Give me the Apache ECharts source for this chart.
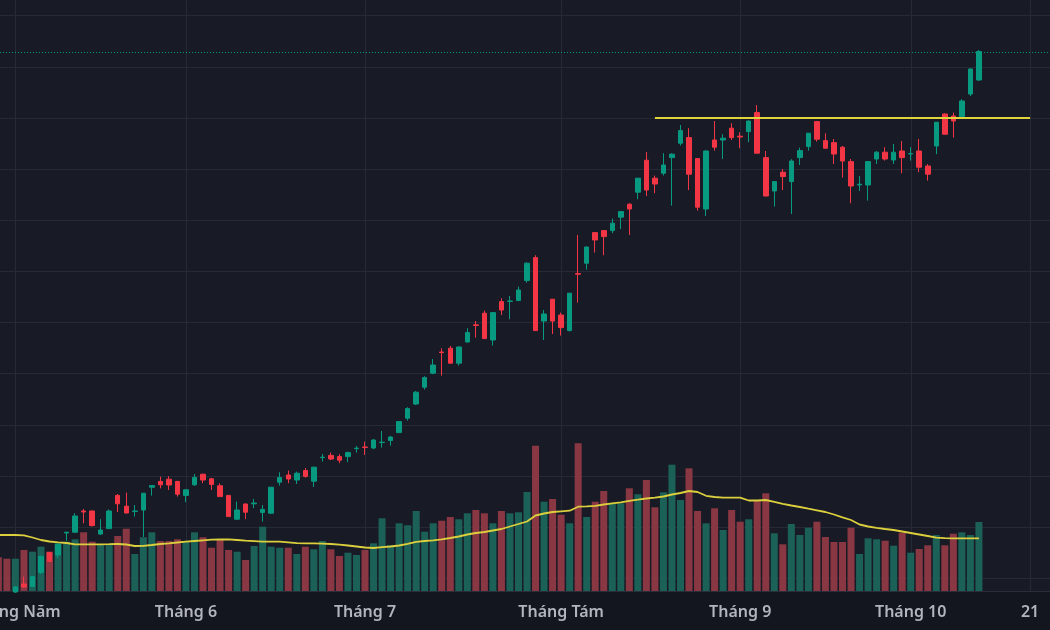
<!DOCTYPE html>
<html>
<head>
<meta charset="utf-8">
<script src="https://cdn.jsdelivr.net/npm/echarts@6/dist/echarts.min.js"></script>
<style>
html,body{margin:0;padding:0;background:#14161f;}
#chart{width:1050px;height:630px;}
</style>
</head>
<body>
<div id="chart"></div>
<script>
// ---- categories (trading days) ----
const dates = [
'2025-04-28','2025-04-29',
'2025-05-05','2025-05-06','2025-05-07','2025-05-08','2025-05-09','2025-05-12','2025-05-13','2025-05-14','2025-05-15','2025-05-16',
'2025-05-19','2025-05-20','2025-05-21','2025-05-22','2025-05-23','2025-05-26','2025-05-27','2025-05-28','2025-05-29','2025-05-30',
'2025-06-02','2025-06-03','2025-06-04','2025-06-05','2025-06-06','2025-06-09','2025-06-10','2025-06-11','2025-06-12','2025-06-13',
'2025-06-16','2025-06-17','2025-06-18','2025-06-19','2025-06-20','2025-06-23','2025-06-24','2025-06-25','2025-06-26','2025-06-27','2025-06-30',
'2025-07-01','2025-07-02','2025-07-03','2025-07-04','2025-07-07','2025-07-08','2025-07-09','2025-07-10','2025-07-11','2025-07-14',
'2025-07-15','2025-07-16','2025-07-17','2025-07-18','2025-07-21','2025-07-22','2025-07-23','2025-07-24','2025-07-25','2025-07-28',
'2025-07-29','2025-07-30','2025-07-31',
'2025-08-01','2025-08-04','2025-08-05','2025-08-06','2025-08-07','2025-08-08','2025-08-11','2025-08-12','2025-08-13','2025-08-14',
'2025-08-15','2025-08-18','2025-08-19','2025-08-20','2025-08-21','2025-08-22','2025-08-25','2025-08-26','2025-08-27','2025-08-28','2025-08-29',
'2025-09-03','2025-09-04','2025-09-05','2025-09-08','2025-09-09','2025-09-10','2025-09-11','2025-09-12','2025-09-15','2025-09-16',
'2025-09-17','2025-09-18','2025-09-19','2025-09-22','2025-09-23','2025-09-24','2025-09-25','2025-09-26','2025-09-29','2025-09-30',
'2025-10-01','2025-10-02','2025-10-03','2025-10-06','2025-10-07','2025-10-08','2025-10-09','2025-10-10','2025-10-13',
'2025-10-14','2025-10-15','2025-10-16','2025-10-17','2025-10-20','2025-10-21','2025-10-22','2025-10-23'
];

// ---- OHLC ----
const opens = [
20.20,20.05,20.40,20.80,20.67,21.37,22.38,22.25,23.35,23.39,
24.45,24.45,23.30,23.57,25.23,24.69,24.43,24.50,25.64,25.93,
26.04,25.93,25.23,25.76,26.29,26.06,25.71,25.23,24.04,24.80,
24.81,24.38,24.34,25.89,26.25,26.00,26.47,25.94,27.12,27.23,
27.17,27.17,27.57,27.65,27.60,27.87,27.97,28.37,29.09,29.80,
30.64,31.34,32.40,32.59,31.84,32.90,33.76,34.34,33.00,34.92,
34.93,34.97,35.97,37.12,33.95,35.04,34.25,33.47,36.32,36.84,
38.37,38.47,38.47,39.14,39.79,40.39,41.99,41.09,41.34,42.12,
42.84,43.12,42.07,39.55,43.00,43.00,43.59,43.19,43.42,44.37,
42.12,40.45,41.39,40.92,42.12,42.67,43.92,42.97,42.87,42.64,
41.92,40.75,40.75,42.05,42.39,42.00,42.45,42.30,42.45,41.70,
42.70,44.30,44.20,44.17,45.30,46.00];
const closes = [
19.95,19.80,20.65,20.65,21.17,22.17,21.93,22.79,23.39,24.20,
24.40,23.72,23.50,24.45,24.81,24.35,24.45,25.34,25.72,25.76,
25.75,25.29,25.51,26.13,26.00,25.78,25.17,24.17,24.50,24.39,
24.85,24.53,25.64,26.12,26.05,26.34,26.18,26.64,27.14,27.05,
26.99,27.37,27.59,27.63,28.00,27.89,28.15,28.92,29.57,30.39,
31.12,31.75,32.37,31.84,32.65,33.37,33.73,33.07,34.37,34.50,
34.95,35.50,36.84,33.47,34.30,33.95,33.62,35.34,36.29,37.65,
38.00,38.17,38.84,39.42,39.55,41.09,40.50,40.80,41.75,42.29,
43.47,41.29,39.64,42.45,42.64,43.09,43.12,43.15,43.95,42.34,
40.20,40.92,41.17,41.95,42.47,43.34,43.04,42.59,42.30,41.95,
40.70,40.79,41.92,42.39,42.05,42.39,42.12,42.32,41.64,41.29,
43.89,43.29,43.95,44.95,46.55,47.425];
const highs = [
20.30,20.15,20.70,21.17,21.20,22.23,22.40,22.80,23.40,24.34,
24.55,24.48,24.04,24.53,25.30,25.37,24.75,25.35,25.74,26.17,
26.19,25.95,25.53,26.30,26.31,26.09,25.83,25.25,24.92,24.83,
25.05,24.75,25.65,26.39,26.47,26.42,26.60,26.66,27.30,27.37,
27.29,27.42,27.70,27.92,28.05,28.45,28.20,28.94,29.64,30.45,
31.19,32.05,32.59,32.70,32.68,33.59,33.95,34.47,34.39,35.09,
35.20,35.67,36.89,37.24,34.50,35.05,34.37,35.35,38.25,37.67,
38.39,38.49,39.07,39.44,39.84,41.10,42.40,41.22,42.34,42.34,
43.75,43.59,42.09,42.48,43.95,43.29,43.84,43.39,43.97,44.75,
42.45,40.94,41.55,42.04,42.62,43.35,43.94,43.34,43.05,42.70,
42.05,41.20,41.94,42.45,42.64,42.80,42.95,42.64,43.05,41.80,
43.90,44.33,44.37,45.04,46.57,47.50];
const lows = [
19.85,19.70,20.35,20.63,20.65,21.30,21.90,22.10,22.95,23.35,
23.83,23.67,23.25,23.55,24.40,24.33,24.17,23.15,25.22,25.58,
25.50,25.17,24.89,25.70,25.84,25.50,25.15,24.15,24.01,24.04,
24.59,23.92,24.31,25.72,25.84,25.80,26.12,25.65,26.92,27.00,
26.84,26.89,27.37,27.25,27.54,27.62,27.72,28.35,28.97,29.75,
30.52,31.29,31.22,31.83,31.72,32.88,33.12,33.05,32.72,34.25,
34.04,34.95,35.87,33.45,33.00,33.30,33.22,33.43,34.87,36.52,
37.37,37.24,38.34,38.55,38.25,40.04,40.20,40.34,41.22,39.72,
42.72,40.50,39.47,39.20,42.47,42.05,43.00,42.59,42.89,42.32,
40.18,39.67,40.50,39.30,41.75,42.47,42.92,42.55,41.80,41.12,
39.84,40.45,39.97,41.80,41.97,41.80,41.34,41.97,41.39,40.97,
42.29,43.27,43.12,44.05,45.20,45.95];

// ---- volume (millions) and its moving average ----
const volumes = [
3.37,3.23,3.23,4.10,3.93,4.43,3.93,4.77,4.93,5.17,
5.87,4.93,4.60,4.60,5.50,6.23,3.70,5.37,5.87,5.00,
5.00,5.17,4.93,5.87,5.37,4.33,5.17,4.10,3.93,3.10,
4.50,6.43,4.43,4.33,4.33,3.70,4.43,4.17,5.00,4.17,
3.50,3.83,3.60,4.10,4.77,7.27,4.60,6.77,6.57,8.00,
5.93,6.77,7.03,7.40,7.17,7.77,8.10,7.77,6.77,8.00,
7.77,7.87,9.90,14.53,8.93,9.20,7.63,6.77,14.77,7.40,
8.93,10.00,8.77,8.77,10.27,9.67,11.10,8.37,9.87,12.63,
9.10,12.27,8.00,6.77,8.27,6.10,8.10,6.93,7.17,9.10,
9.77,5.77,4.67,6.70,5.60,6.33,6.93,5.40,4.90,4.90,
6.33,3.70,5.27,5.17,5.03,4.53,5.83,3.83,4.20,4.57,
5.60,4.57,5.73,5.87,5.60,6.90];
const volumeMA = [
5.60,5.60,5.60,5.57,5.35,5.10,4.95,4.87,4.80,4.67,
4.67,4.67,4.67,4.68,4.70,4.65,4.50,4.52,4.60,4.70,
4.77,4.85,4.93,5.00,5.07,5.13,5.15,5.17,5.10,5.03,
4.98,4.93,4.93,4.93,4.87,4.78,4.77,4.77,4.74,4.70,
4.64,4.55,4.45,4.35,4.30,4.38,4.45,4.55,4.72,4.92,
5.00,5.07,5.17,5.30,5.45,5.65,5.80,5.90,6.05,6.20,
6.45,6.70,6.95,7.55,7.75,7.90,7.97,8.03,8.43,8.47,
8.52,8.65,8.77,8.87,9.02,9.13,9.25,9.33,9.45,9.65,
9.80,10.00,9.90,9.52,9.40,9.33,9.33,9.33,9.05,9.05,
9.10,8.92,8.72,8.55,8.40,8.23,8.07,7.90,7.65,7.37,
7.10,6.65,6.45,6.32,6.20,6.10,5.95,5.80,5.65,5.50,
5.33,5.28,5.27,5.27,5.27,5.27];

// ---- x tick labels ----
const tickDates  = ['2025-05-05','2025-06-02','2025-07-01','2025-08-01','2025-09-03','2025-10-01','2025-10-21'];
const tickLabels = ['Tháng Năm','Tháng 6','Tháng 7','Tháng Tám','Tháng 9','Tháng 10','21'];

// ---- drawn resistance line ----
const resistanceLevel = 44.10;
const resistanceStart = '2025-08-18';
const resistanceEnd   = '2025-10-21';

// ---- styling ----
const UP = '#089981', DOWN = '#f23645';
const UP_VOL = '#1b6157', DOWN_VOL = '#8a3744';
const GRID_LINE = '#262a36';
const GL = -5.9, GW = 1057.3;

const candleData = opens.map((o, i) => [o, closes[i], lows[i], highs[i]]);
const volData = volumes.map((v, i) => ({
  value: v,
  itemStyle: { color: closes[i] >= opens[i] ? UP_VOL : DOWN_VOL }
}));
const lastClose = closes[closes.length - 1];

const chart = echarts.init(document.getElementById('chart'), null, { renderer: 'canvas' });
chart.setOption({
  animation: false,
  backgroundColor: '#14161f',
  grid: [
    { left: GL, width: GW, top: 0, height: 591, show: true, backgroundColor: '#181b25', borderWidth: 0, containLabel: false, outerBoundsMode: 'none' },
    { left: GL, width: GW, top: 0, height: 591, show: false, containLabel: false, outerBoundsMode: 'none' },
    { left: GL, width: GW, top: 15.7, height: 562.6, show: false, containLabel: false, outerBoundsMode: 'none' }
  ],
  xAxis: [
    {
      gridIndex: 0, type: 'category', data: dates, boundaryGap: true,
      axisLine: { show: true, lineStyle: { color: '#2a2e39', width: 1 } },
      axisTick: { show: false },
      splitLine: { show: false },
      axisLabel: {
        interval: (idx, val) => tickDates.indexOf(val) >= 0,
        formatter: (val) => tickLabels[tickDates.indexOf(val)],
        color: '#b2b5be', fontFamily: 'Noto Sans', fontWeight: 600, fontSize: 16,
        margin: 13, lineHeight: 16
      }
    },
    { gridIndex: 1, type: 'category', data: dates, boundaryGap: true, show: false },
    { gridIndex: 2, type: 'value', min: 0, max: 1, show: false }
  ],
  yAxis: [
    { gridIndex: 0, type: 'value', min: 0, max: 59.1, show: false },
    { gridIndex: 1, type: 'value', min: 20.45, max: 50, show: false, scale: true },
    {
      gridIndex: 2, type: 'value', min: 0, max: 11, interval: 1,
      axisLine: { show: false }, axisTick: { show: false }, axisLabel: { show: false },
      splitLine: { show: true, lineStyle: { color: GRID_LINE, width: 1 } }
    }
  ],
  series: [
    {
      name: 'Month grid', type: 'custom', xAxisIndex: 0, yAxisIndex: 0, z: 1, silent: true,
      data: tickDates.map(d => [d, 0]),
      encode: { x: 0, y: 1 },
      renderItem: (params, api) => {
        const cs = params.coordSys;
        const x = Math.round(api.coord([api.value(0), 0])[0]) + 0.5;
        return {
          type: 'line', silent: true,
          shape: { x1: x, y1: cs.y, x2: x, y2: cs.y + cs.height },
          style: { stroke: GRID_LINE, lineWidth: 1 }
        };
      }
    },
    {
      name: 'Volume', type: 'bar', xAxisIndex: 0, yAxisIndex: 0,
      data: volData, barWidth: 7, z: 2
    },
    {
      name: 'Volume MA', type: 'line', xAxisIndex: 0, yAxisIndex: 0,
      data: volumeMA, showSymbol: false, symbol: 'none', z: 3,
      lineStyle: { color: '#dccf3e', width: 1.8 }
    },
    {
      name: 'Last price line', type: 'custom', xAxisIndex: 1, yAxisIndex: 1, z: 5, silent: true,
      data: [[dates[closes.length - 1], lastClose]],
      encode: { x: 0, y: 1 },
      renderItem: (params, api) => {
        const cs = params.coordSys;
        const y = Math.round(api.coord([api.value(0), api.value(1)])[1]) + 0.5;
        return {
          type: 'line', silent: true,
          shape: { x1: 0, y1: y, x2: cs.x + cs.width, y2: y },
          style: { stroke: '#089981', lineWidth: 1, lineDash: [1, 2] }
        };
      }
    },
    {
      name: 'Price', type: 'candlestick', xAxisIndex: 1, yAxisIndex: 1,
      data: candleData, barWidth: 5, z: 4,
      itemStyle: { color: UP, color0: DOWN, borderColor: UP, borderColor0: DOWN, borderWidth: 1 },
      markLine: {
        silent: true, symbol: ['none', 'none'], z: 5,
        label: { show: false },
        emphasis: { disabled: true },
        data: [
          [
            { coord: [dates.indexOf(resistanceStart), resistanceLevel], lineStyle: { color: '#e0d33b', width: 2, type: 'solid' } },
            { coord: [dates.indexOf(resistanceEnd), resistanceLevel] }
          ]
        ]
      }
    }
  ]
});
</script>
</body>
</html>
